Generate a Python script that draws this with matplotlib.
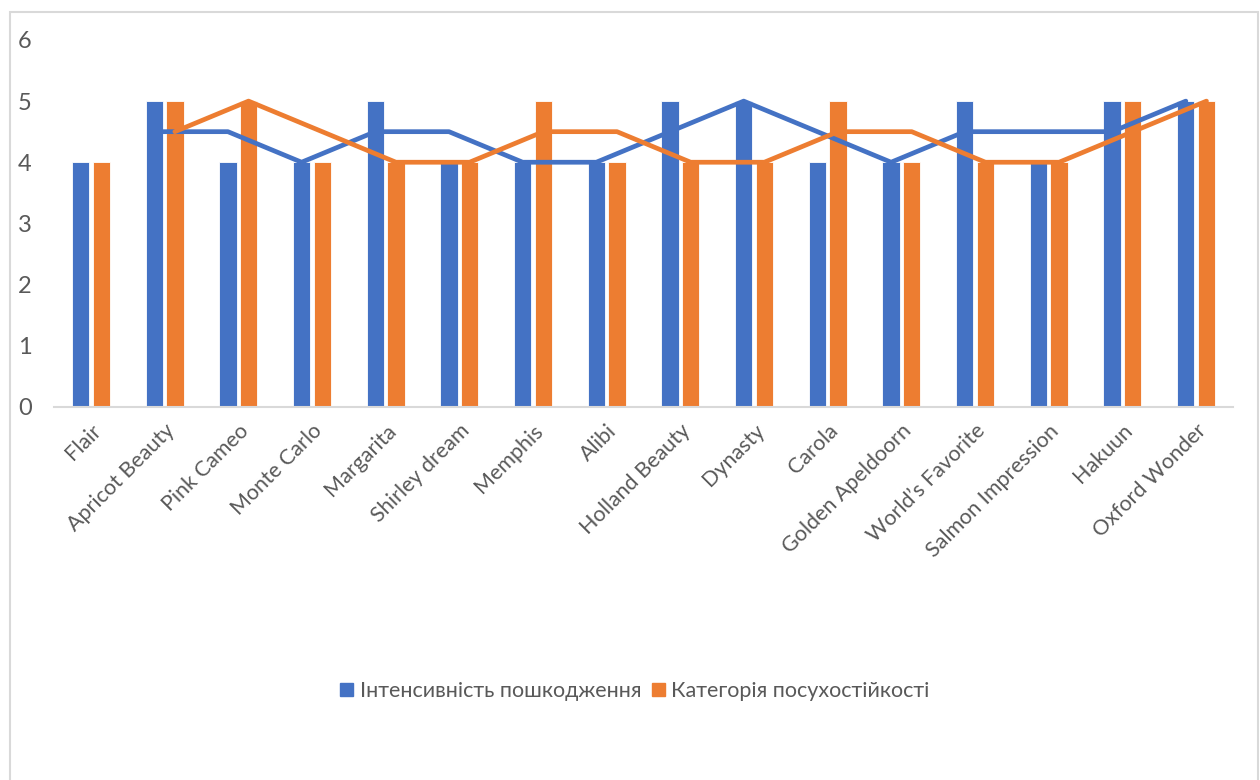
import matplotlib
matplotlib.use("Agg")
import matplotlib.pyplot as plt
import numpy as np
from matplotlib.patches import Rectangle

plt.rcParams['font.family'] = ['Lato', 'DejaVu Sans']

categories = ["Flair", "Apricot Beauty", "Pink Cameo", "Monte Carlo", "Margarita",
              "Shirley dream", "Memphis", "Alibi", "Holland Beauty", "Dynasty",
              "Carola", "Golden Apeldoorn", "World\u2019s Favorite", "Salmon Impression",
              "Hakuun", "Oxford Wonder"]
damage = [4, 5, 4, 4, 5, 4, 4, 4, 5, 5, 4, 4, 5, 4, 5, 5]
drought = [4, 5, 5, 4, 4, 4, 5, 4, 4, 4, 5, 4, 4, 4, 5, 5]
# 2-period moving-average trendlines (start at the 2nd category)
damage_ma = [4.5, 4.5, 4, 4.5, 4.5, 4, 4, 4.5, 5, 4.5, 4, 4.5, 4.5, 4.5, 5]
drought_ma = [4.5, 5, 4.5, 4, 4, 4.5, 4.5, 4, 4, 4.5, 4.5, 4, 4, 4.5, 5]
series_names = ["Інтенсивність пошкодження", "Категорія посухостійкості"]
yticks = [0, 1, 2, 3, 4, 5, 6]

blue = "#4472C4"
orange = "#ED7D31"
txt = "#595959"
fs = 15.5

fig = plt.figure(figsize=(12.6, 7.8), dpi=100)
ax = fig.add_axes([54/1260, 1 - 406.7/780, (1233-54)/1260, (406.7-40)/780])

x = np.arange(len(categories))
off = 0.14
w = 0.235
ax.bar(x - off, damage, width=w, color=blue, edgecolor="white", linewidth=0.6, zorder=2)
ax.bar(x + off, drought, width=w, color=orange, edgecolor="white", linewidth=0.6, zorder=2)
ax.plot(x[1:] - off, damage_ma, color=blue, linewidth=3.4, solid_capstyle='round', zorder=3)
ax.plot(x[1:] + off, drought_ma, color=orange, linewidth=3.4, solid_capstyle='round', zorder=3)

ax.set_xlim(-0.5, len(categories) - 0.5)
ax.set_ylim(0, 6)
ax.set_yticks(yticks)
ax.set_yticklabels([str(v) for v in yticks])
ax.set_xticks(x)
ax.set_xticklabels(categories, rotation=45, ha='right', va='top', rotation_mode='anchor')
for s in ["top", "right", "left"]:
    ax.spines[s].set_visible(False)
ax.spines["bottom"].set_color("#d9d9d9")
ax.spines["bottom"].set_linewidth(1.5)
ax.tick_params(axis='y', length=0, pad=16, labelsize=17, labelcolor=txt)
ax.tick_params(axis='x', length=0, pad=10, labelsize=fs, labelcolor=txt)

handles = [Rectangle((0, 0), 1, 1, color=blue), Rectangle((0, 0), 1, 1, color=orange)]
fig.legend(handles, series_names, loc='center', bbox_to_anchor=(635/1260, 1 - 691/780),
           ncol=2, frameon=False, fontsize=fs, labelcolor=txt,
           handlelength=0.6, handleheight=0.6, handletextpad=0.3, columnspacing=0.5)

fig.patches.append(Rectangle((10/1260, -10/780), 1248/1260, 778/780, transform=fig.transFigure,
                             fill=False, edgecolor="#d9d9d9", linewidth=1.5))

fig.savefig("out.png", dpi=100)
